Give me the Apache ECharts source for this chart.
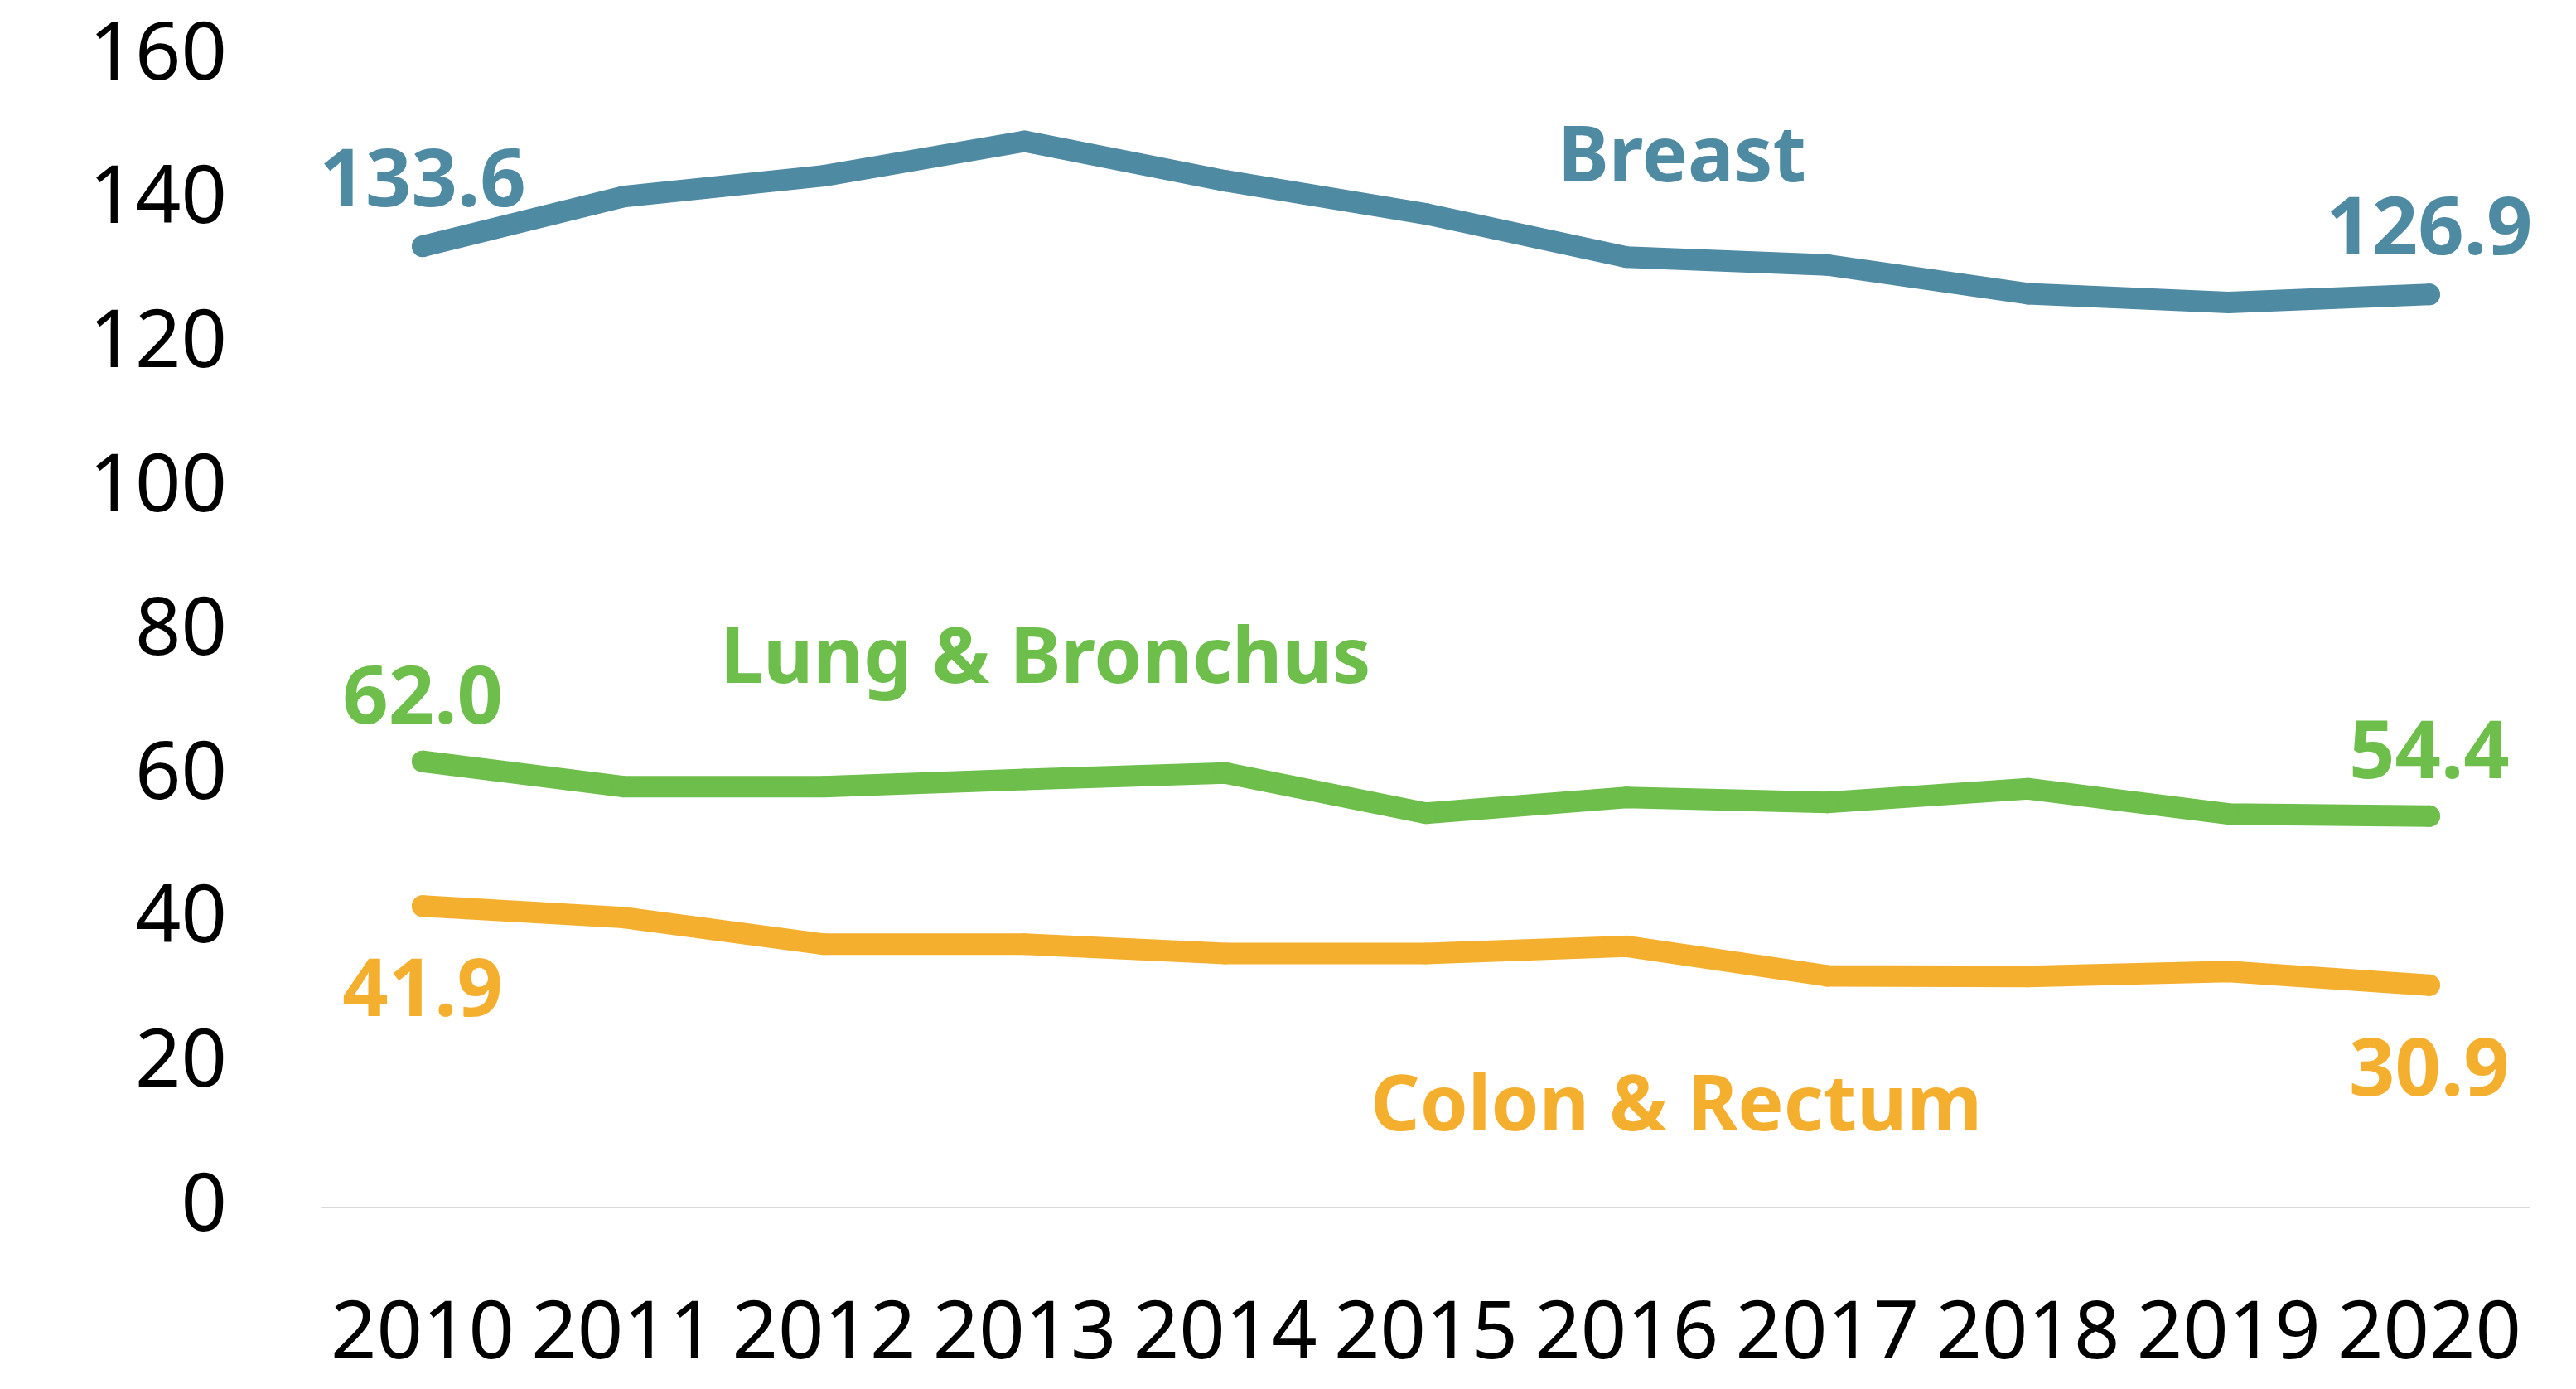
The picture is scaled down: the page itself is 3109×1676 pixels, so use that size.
<!DOCTYPE html>
<html>
<head>
<meta charset="utf-8">
<script src="https://cdn.jsdelivr.net/npm/echarts@6/dist/echarts.min.js"></script>
<style>
  html, body { margin: 0; padding: 0; background: #fff; }
  #chart { width: 3109px; height: 1676px; }
</style>
</head>
<body>
<div id="chart"></div>
<script>
const years = ["2010", "2011", "2012", "2013", "2014", "2015", "2016", "2017", "2018", "2019", "2020"];
const breast = [133.6, 140.5, 143.4, 148.2, 142.7, 138.1, 132.1, 131.0, 127.0, 125.8, 126.9];
const lung = [62.0, 58.5, 58.5, 59.5, 60.4, 54.8, 57.0, 56.3, 58.2, 54.7, 54.4];
const colon = [41.9, 40.3, 36.6, 36.6, 35.3, 35.3, 36.3, 32.2, 32.1, 32.8, 30.9];

const FONT = "Noto Sans";
const chart = echarts.init(document.getElementById("chart"));

// only the first and last point carry a value label
function endLabels(values, pos, dist) {
  return values.map((v, i) => ({
    value: v,
    label: {
      show: i === 0 || i === values.length - 1,
      position: pos,
      distance: dist,
      formatter: (p) => p.value.toFixed(1)
    }
  }));
}

function lineSeries(name, values, color, pos, dist) {
  return {
    name: name,
    type: "line",
    data: endLabels(values, pos, dist),
    symbol: "circle",
    symbolSize: 26,
    itemStyle: { color: color },
    lineStyle: { width: 26, color: color, cap: "round" },
    label: {
      color: color,
      fontFamily: FONT,
      fontSize: 97,
      fontWeight: "bold"
    },
    emphasis: { disabled: true },
    animation: false
  };
}

function seriesName(text, color, x, y) {
  return {
    type: "text",
    left: x,
    top: y,
    style: {
      text: text,
      fill: color,
      font: "bold 93px '" + FONT + "'",
      textAlign: "center",
      textVerticalAlign: "middle"
    }
  };
}

chart.setOption({
  backgroundColor: "#ffffff",
  grid: { left: 389, right: 56, top: 68, bottom: 219, outerBoundsMode: "none" },
  xAxis: {
    type: "category",
    data: years,
    axisLine: { lineStyle: { color: "#d9d9d9", width: 2 } },
    axisTick: { show: false },
    axisLabel: { color: "#000", fontFamily: FONT, fontSize: 97, margin: 106, interval: 0 }
  },
  yAxis: {
    type: "value",
    min: 0,
    max: 160,
    interval: 20,
    axisLine: { show: false },
    axisTick: { show: false },
    splitLine: { show: false },
    axisLabel: { color: "#000", fontFamily: FONT, fontSize: 97, margin: 115 }
  },
  series: [
    lineSeries("Breast", breast, "#4f8aa3", "top", 14),
    lineSeries("Lung & Bronchus", lung, "#6dbe4b", "top", 12),
    lineSeries("Colon & Rectum", colon, "#f5af2f", "bottom", 44)
  ],
  graphic: [
    seriesName("Breast", "#4f8aa3", 1880, 146),
    seriesName("Lung & Bronchus", "#6dbe4b", 869, 751),
    seriesName("Colon & Rectum", "#f5af2f", 1654, 1291)
  ]
});
</script>
</body>
</html>
